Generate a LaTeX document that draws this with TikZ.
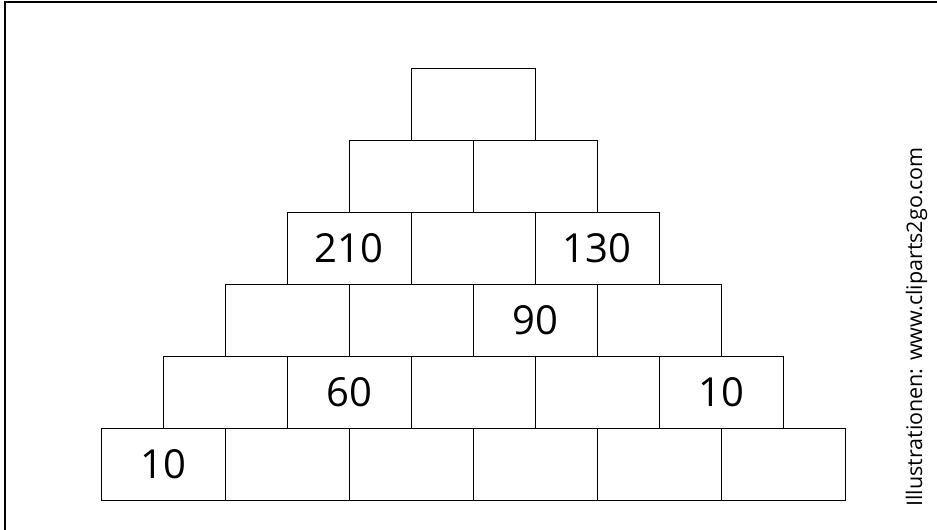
\documentclass[tikz,border=0pt]{standalone}
\usepackage{fontspec}
\setmainfont{Open Sans}
\usepackage{tikz}
\usetikzlibrary{positioning}

\begin{document}
\begin{tikzpicture}[
  x=1pt, y=-1pt,
  brick/.style={draw, line width=1.5pt, minimum width=124pt, minimum height=72pt,
    inner sep=0pt, outer sep=0pt, font=\fontsize{40}{40}\selectfont},
  frame/.style={draw, line width=2pt},
  credit/.style={rotate=90, anchor=base west, inner sep=0pt, font=\fontsize{21.5}{21.5}\selectfont},
]
\useasboundingbox (0,0) rectangle (937,530);
% ---- sheet frame (right and bottom edges cut off) ----
\draw[frame] (4.5,2.3) rectangle (960,560);
% ---- number pyramid, row r has r+1 bricks ----
\foreach \r in {0,...,5}{
  \foreach \c in {0,...,\r}{
    \node[brick] (b\r\c) at ({473.3-62*\r+124*\c},{104.3+72*\r}) {};
  }
}
% ---- given numbers ----
\node[brick] (n210) at (b20) {210};
\node[brick] (n130) at (b22) {130};
\node[brick] (n90) at (b32) {90};
\node[brick] (n60) at (b41) {60};
\node[brick] (n10a) at (b44) {10};
\node[brick] (n10b) at (b50) {10};
% ---- credit line ----
\node[credit] (cred) at (922,507) {Illustrationen: www.cliparts2go.com};
\end{tikzpicture}
\end{document}
